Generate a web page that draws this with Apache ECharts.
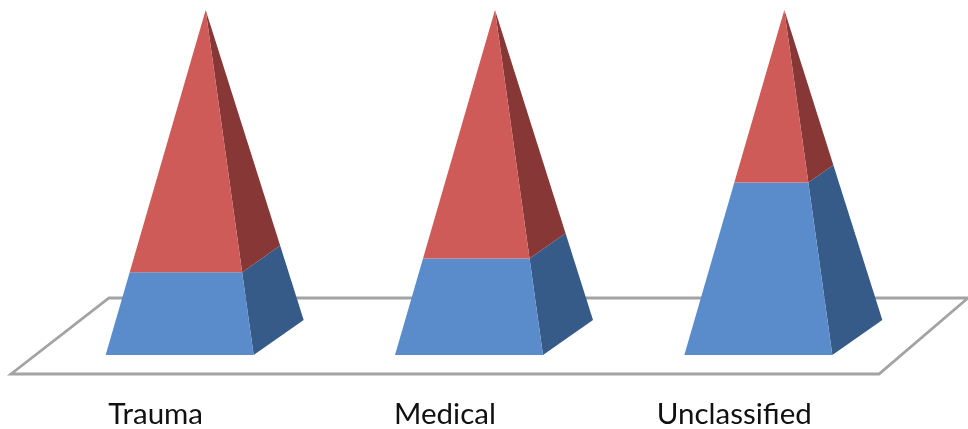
<!DOCTYPE html>
<html><head><meta charset="utf-8">
<style>html,body{margin:0;padding:0;background:#fff}#c{width:968px;height:429px}</style>
<script src="https://cdn.jsdelivr.net/npm/echarts@6/dist/echarts.min.js"></script>
</head><body><div id="c"></div>
<script>
const categories = ['Trauma', 'Medical', 'Unclassified'];
const lowerValues = [24, 28, 50];
const upperValues = [76, 72, 50];

const chart = echarts.init(document.getElementById('c'), null, {renderer: 'canvas'});

function lerp(a, b, t) { return [a[0] + (b[0] - a[0]) * t, a[1] + (b[1] - a[1]) * t]; }

function pyramidRenderer(frontColor, sideColor) {
  return function (params, api) {
    const cat = api.value(0), from = api.value(1), to = api.value(2);
    const c0 = api.coord([cat, 0]), c100 = api.coord([cat, 100]);
    const fl = [c0[0] - 50, c0[1]], fr = [c0[0] + 98, c0[1]], br = [c0[0] + 148, c0[1] - 35];
    const apex = [c0[0] + 50, c100[1]];
    const t0 = from / 100, t1 = to / 100;
    return {
      type: 'group',
      children: [
        {type: 'polygon', shape: {points: [lerp(fr, apex, t0), lerp(br, apex, t0), lerp(br, apex, t1), lerp(fr, apex, t1)]},
         style: {fill: sideColor}},
        {type: 'polygon', shape: {points: [lerp(fl, apex, t0), lerp(fr, apex, t0), lerp(fr, apex, t1), lerp(fl, apex, t1)]},
         style: {fill: frontColor}}
      ]
    };
  };
}

function floorRenderer(params) {
  const g = params.coordSys;
  const yFront = g.y + g.height + 19, yBack = g.y + g.height - 57;
  return {
    type: 'polygon',
    shape: {points: [[g.x, yFront], [g.x + g.width, yFront], [g.x + g.width + 89, yBack], [g.x + 98, yBack]]},
    style: {fill: '#fff', stroke: '#a3a3a3', lineWidth: 2.8}
  };
}

chart.setOption({
  animation: false,
  backgroundColor: '#fff',
  grid: {left: 11, right: 89, top: 10, bottom: 74, outerBoundsMode: 'none'},
  xAxis: {
    type: 'category', data: categories,
    axisLine: {show: false}, axisTick: {show: false}, splitLine: {show: false},
    axisLabel: {margin: 44, fontFamily: 'Lato', fontSize: 29.5, color: '#111'}
  },
  yAxis: {type: 'value', min: 0, max: 100, show: false},
  series: [
    {type: 'custom', name: 'Floor', coordinateSystem: 'cartesian2d', z: 1, silent: true, clip: false,
     renderItem: floorRenderer, data: [[0, 0]], encode: {x: 0, y: 1}},
    {type: 'custom', name: 'Lower', coordinateSystem: 'cartesian2d', z: 2, clip: false,
     renderItem: pyramidRenderer('#5a8bcb', '#375b89'),
     data: categories.map((c, i) => [i, 0, lowerValues[i]]), encode: {x: 0, y: [1, 2]}},
    {type: 'custom', name: 'Upper', coordinateSystem: 'cartesian2d', z: 3, clip: false,
     renderItem: pyramidRenderer('#cf5b58', '#873735'),
     data: categories.map((c, i) => [i, lowerValues[i], lowerValues[i] + upperValues[i]]), encode: {x: 0, y: [1, 2]}}
  ]
});
</script></body></html>
